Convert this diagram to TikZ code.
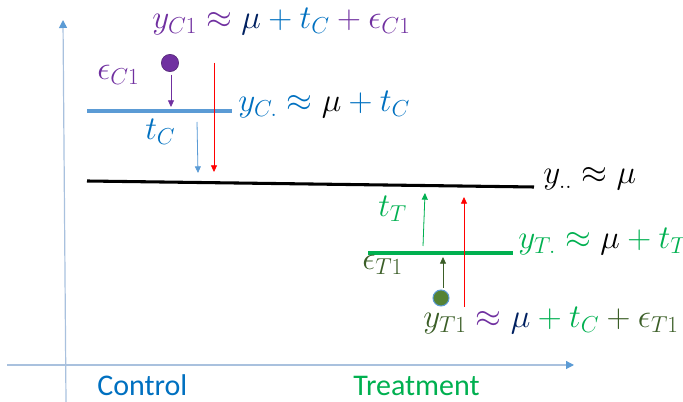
\documentclass[tikz,border=0pt]{standalone}
\usepackage{fontspec}
\setsansfont{Carlito}
\DeclareMathSizes{24}{24}{18}{14}
\usetikzlibrary{arrows.meta}
\definecolor{cpurple}{HTML}{7030A0}
\definecolor{cblue}{HTML}{0070C0}
\definecolor{lblue}{HTML}{5B9BD5}
\definecolor{axisc}{HTML}{A9C1DE}
\definecolor{cgreen}{HTML}{00B050}
\definecolor{dgreen}{HTML}{3B5E27}
\definecolor{dotgreen}{HTML}{548235}
\definecolor{cnavy}{HTML}{002060}
\definecolor{cred}{HTML}{FF0000}
\begin{document}
\begin{tikzpicture}[x=0.75pt,y=-0.75pt,
  mathlbl/.style={inner sep=0pt,anchor=base west,font=\fontsize{24}{28}\selectfont},
  catlbl/.style={inner sep=0pt,anchor=base west,font=\sffamily\fontsize{22.5}{27}\selectfont},
  thinarrow/.style={line width=0.6pt,-{Triangle[length=5pt,width=4.5pt]}},
  level/.style={line width=2.3pt},
  axisline/.style={draw=axisc,line width=0.9pt,-{Triangle[length=6pt,width=6pt,color=lblue]}}]
\useasboundingbox (0,0) rectangle (683,402);
% axes
\coordinate (yaxB) at (66,402);
\coordinate (yaxT) at (63,20);
\coordinate (xaxL) at (7,365);
\coordinate (xaxR) at (574,365);
\draw[axisline] (yaxB) -- (yaxT);
\draw[axisline] (xaxL) -- (xaxR);
% category labels
\node[catlbl,text=cblue] (ctrl) at (97,396) {Control};
\node[catlbl,text=cgreen] (trt) at (353,396) {Treatment};
% level lines
\coordinate (cL) at (87,111);
\coordinate (cR) at (232,111);
\coordinate (mL) at (87,181);
\coordinate (mR) at (534,187);
\coordinate (tL) at (368,253);
\coordinate (tR) at (513,253);
\draw[level,draw=lblue] (cL) -- (cR);
\draw[level,draw=black] (mL) -- (mR);
\draw[level,draw=cgreen] (tL) -- (tR);
% dots
\node[circle,fill=cpurple,draw=cpurple!70!black,line width=0.4pt,minimum size=13pt,inner sep=0pt] (dotC) at (170,63) {};
\node[circle,fill=dotgreen,draw=lblue,line width=0.8pt,minimum size=12pt,inner sep=0pt] (dotT) at (441,298) {};
% arrow end points
\coordinate (pS) at (171,75);  \coordinate (pE) at (171,107);
\coordinate (rdS) at (214,63); \coordinate (rdE) at (214,172);
\coordinate (bS) at (197,122); \coordinate (bE) at (198,173);
\coordinate (gS) at (423,246); \coordinate (gE) at (425,193);
\coordinate (ruS) at (464,307); \coordinate (ruE) at (464,197);
\coordinate (dgS) at (443,288); \coordinate (dgE) at (443,257);
\draw[thinarrow,draw=cpurple,fill=cpurple] (pS) -- (pE);
\draw[thinarrow,draw=cred,fill=cred] (rdS) -- (rdE);
\draw[thinarrow,draw=lblue,fill=lblue] (bS) -- (bE);
\draw[thinarrow,draw=cgreen,fill=cgreen] (gS) -- (gE);
\draw[thinarrow,draw=cred,fill=cred] (ruS) -- (ruE);
\draw[thinarrow,draw=dgreen,fill=dgreen] (dgS) -- (dgE);
% labels
\node[mathlbl] (topF) at (152,29) {$\color{cpurple}y_{C1}\mathrel{\color{cpurple}\approx}{\color{cnavy}\mu}\mathbin{\color{cblue}+}{\color{cblue}t_C}\mathbin{\color{cpurple}+}{\color{cpurple}\epsilon_{C1}}$};
\node[mathlbl] (epsC) at (97,80) {$\color{cpurple}\epsilon_{C1}$};
\node[mathlbl] (tC) at (145,140) {$\color{cblue}t_C$};
\node[mathlbl] (cF) at (238,112) {$\color{cblue}y_{C.}\mathrel{\color{cblue}\approx}{\color{black}\mu}\mathbin{\color{cblue}+}{\color{cblue}t_C}$};
\node[mathlbl] (mF) at (543,184) {$y_{..}\approx\mu$};
\node[mathlbl] (tT) at (378,217) {$\color{cgreen}t_T$};
\node[mathlbl] (tF) at (518,249) {$\color{cgreen}y_{T.}\mathrel{\color{cgreen}\approx}{\color{black}\mu}\mathbin{\color{cgreen}+}{\color{cgreen}t_T}$};
\node[mathlbl] (epsT) at (362,270) {$\color{dgreen}\epsilon_{T1}$};
\node[mathlbl] (botF) at (423,328) {$\color{dgreen}y_{T1}\mathrel{\color{cpurple}\approx}{\color{cnavy}\mu}\mathbin{\color{cgreen}+}{\color{cgreen}t_C}\mathbin{\color{dgreen}+}{\color{dgreen}\epsilon_{T1}}$};
\end{tikzpicture}
\end{document}
